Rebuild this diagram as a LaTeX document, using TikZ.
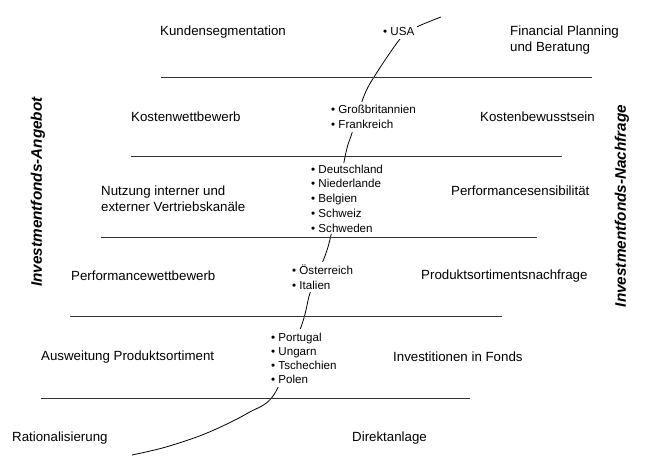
\documentclass[tikz,border=0pt]{standalone}
\usepackage{fontspec}
\setmainfont{Liberation Sans}
\begin{document}
\begin{tikzpicture}[x=1pt,y=-1pt,
  lbl/.style={anchor=west, inner sep=0pt, align=left,
    font=\fontsize{13.3}{16}\selectfont},
  lst/.style={anchor=west, inner sep=3pt, align=left, fill=white,
    font=\fontsize{11.6}{14.8}\selectfont},
  axis/.style={inner sep=0pt, rotate=90,
    font=\fontsize{15.3}{18}\selectfont\bfseries\itshape},
  tier/.style={draw=black!80, line width=0.9pt},
  path/.style={draw=black, line width=0.8pt}]
\useasboundingbox (0,0) rectangle (649,466);

% development path through the markets
\draw[path] plot[smooth, tension=0.55] coordinates {
  (441,17) (414.5,28) (400,39) (374,77) (363.6,97) (352,133) (345,157)
  (331,235) (321.5,265) (310,293) (301.7,325) (275,393) (248,413)
  (207,433) (166,447) (132,455)};

% market groups (masking the path)
\node[lst] (usa) at (380,32) {\textbullet\ USA};
\node[lst] (gb) at (328,117) {\textbullet\ Großbritannien\\\textbullet\ Frankreich};
\node[lst, inner sep=2pt] (de) at (309,198.5) {\textbullet\ Deutschland\\\textbullet\ Niederlande\\\textbullet\ Belgien\\\textbullet\ Schweiz\\\textbullet\ Schweden};
\node[lst] (at) at (289,277) {\textbullet\ Österreich\\\textbullet\ Italien};
\node[lst, font=\fontsize{11.6}{14}\selectfont, inner sep=4pt] (pt) at (267,358) {\textbullet\ Portugal\\\textbullet\ Ungarn\\\textbullet\ Tschechien\\\textbullet\ Polen};

% tier separators
\coordinate (s1a) at (161,77);  \coordinate (s1b) at (592,77);
\coordinate (s2a) at (131,156); \coordinate (s2b) at (562,156);
\coordinate (s3a) at (101,237); \coordinate (s3b) at (537,237);
\coordinate (s4a) at (70,316);  \coordinate (s4b) at (502,316);
\coordinate (s5a) at (41,398);  \coordinate (s5b) at (470,398);
\draw[tier] (s1a) -- (s1b);
\draw[tier] (s2a) -- (s2b);
\draw[tier] (s3a) -- (s3b);
\draw[tier] (s4a) -- (s4b);
\draw[tier] (s5a) -- (s5b);

% supply side
\node[lbl] (o1) at (160,32) {Kundensegmentation};
\node[lbl] (o2) at (131,117) {Kostenwettbewerb};
\node[lbl] (o3) at (101,199) {Nutzung interner und\\externer Vertriebskanäle};
\node[lbl] (o4) at (71,276) {Performancewettbewerb};
\node[lbl] (o5) at (41,357) {Ausweitung Produktsortiment};
\node[lbl] (o6) at (12,438) {Rationalisierung};

% demand side
\node[lbl] (n1) at (510,40) {Financial Planning\\und Beratung};
\node[lbl] (n2) at (480,117) {Kostenbewusstsein};
\node[lbl] (n3) at (451,191) {Performancesensibilität};
\node[lbl] (n4) at (421,276) {Produktsortimentsnachfrage};
\node[lbl] (n5) at (393,357) {Investitionen in Fonds};
\node[lbl] (n6) at (352,438) {Direktanlage};

% axis titles
\node[axis] (supply) at (38,192) {Investmentfonds-Angebot};
\node[axis] (demand) at (622,206) {Investmentfonds-Nachfrage};
\end{tikzpicture}
\end{document}
